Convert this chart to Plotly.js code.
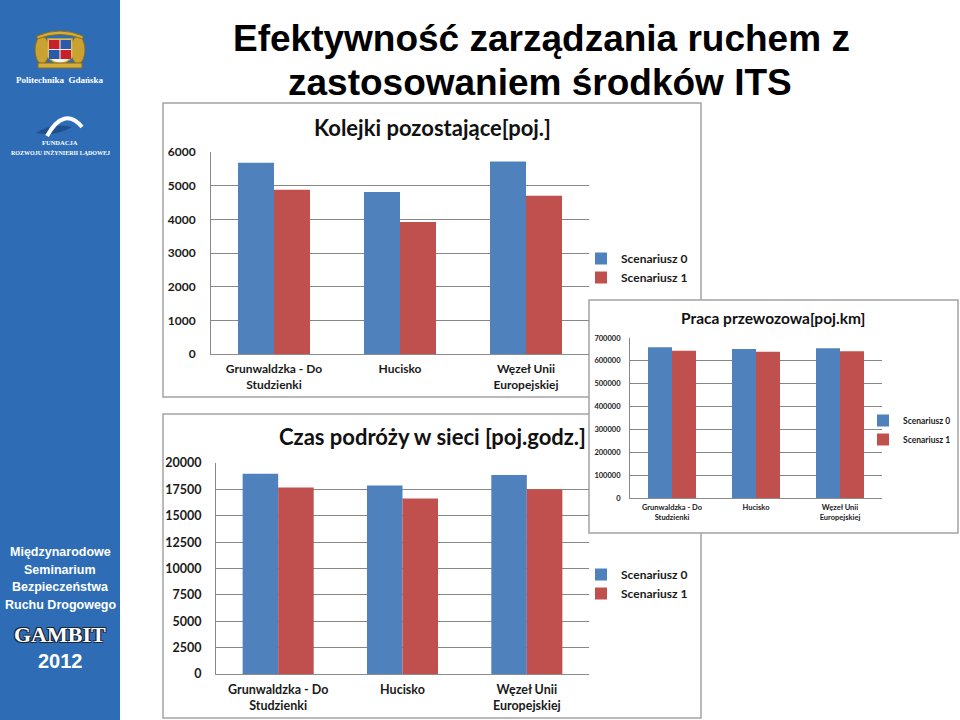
<!DOCTYPE html>
<html>
<head>
<meta charset="utf-8">
<script src="https://cdn.plot.ly/plotly-3.0.1.min.js"></script>
<style>
  html, body { margin: 0; padding: 0; background: #fff; }
  #slide { width: 960px; height: 720px; }
</style>
</head>
<body>
<div id="slide"></div>
<script>
// --- data ---
const categories = ['Grunwaldzka - Do<br>Studzienki', 'Hucisko', 'Węzeł Unii<br>Europejskiej'];
const seriesNames = ['Scenariusz 0', 'Scenariusz 1'];

// Kolejki pozostające [poj.]
const queueS0 = [5680, 4810, 5720];
const queueS1 = [4880, 3920, 4700];

// Praca przewozowa [poj.km]
const workS0 = [659000, 652000, 655000];
const workS1 = [644000, 640000, 642000];

// Czas podróży w sieci [poj.godz.]
const timeS0 = [18980, 17870, 18860];
const timeS1 = [17680, 16630, 17510];

const BLUE = '#4f81bd';
const RED = '#c0504d';
const SIDEBAR = '#2e6db6';
const GOLD = '#d4ad3a';
const XL_FONT = 'Lato, "Open Sans", sans-serif';

const W = 960, H = 720;
const px = x => x / W;
const py = y => 1 - y / H;

// path in pixel coords -> paper coords
function paperPath(cmds) {
    return cmds.map(c => {
        if (typeof c === 'string') return c;
        return px(c[0]).toFixed(5) + ',' + py(c[1]).toFixed(5);
    }).join(' ');
}

function barPair(s0, s1, xa, ya, leg) {
    return [s0, s1].map((vals, i) => ({
        type: 'bar',
        x: categories,
        y: vals,
        xaxis: xa,
        yaxis: ya,
        name: seriesNames[i],
        legend: leg,
        marker: { color: i === 0 ? BLUE : RED, line: { width: 0 } },
        hoverinfo: 'skip'
    }));
}

const traces = [
    ...barPair(queueS0, queueS1, 'x', 'y', 'legend'),
    ...barPair(workS0, workS1, 'x2', 'y2', 'legend2'),
    ...barPair(timeS0, timeS1, 'x3', 'y3', 'legend3')
];

function catAxis(domain, anchor, size, standoff) {
    return {
        domain, anchor,
        showgrid: false, zeroline: false,
        showline: true, linecolor: '#8c8c8c', linewidth: 1,
        ticks: '', fixedrange: true,
        tickfont: { family: XL_FONT, size, color: '#1a1a1a', weight: 'bold' },
        ticklabelstandoff: standoff
    };
}

function valAxis(domain, anchor, range, dtick, size, standoff) {
    return {
        domain, anchor, range, dtick,
        showgrid: true, gridcolor: '#878787', gridwidth: 1,
        zeroline: false,
        showline: true, linecolor: '#878787', linewidth: 1,
        ticks: '', fixedrange: true,
        tickformat: 'd',
        tickfont: { family: XL_FONT, size, color: '#1a1a1a', weight: 'bold' },
        ticklabelstandoff: standoff
    };
}

function legendAt(x, y, size, gap) {
    return {
        x: px(x), y: py(y), xanchor: 'left', yanchor: 'middle',
        orientation: 'v', traceorder: 'normal',
        bgcolor: 'rgba(0,0,0,0)', borderwidth: 0,
        font: { family: XL_FONT, size, color: '#1a1a1a', weight: 'bold' },
        tracegroupgap: gap
    };
}

function chartBox(x0, y0, x1, y1) {
    return {
        type: 'rect', xref: 'paper', yref: 'paper', layer: 'below',
        x0: px(x0), y0: py(y0), x1: px(x1), y1: py(y1),
        fillcolor: '#ffffff', line: { color: '#a3a3a3', width: 1.5 }
    };
}

function paperShape(kind, x0, y0, x1, y1, fill, lineColor, lw) {
    return {
        type: kind, xref: 'paper', yref: 'paper', layer: 'below',
        x0: px(x0), y0: py(y0), x1: px(x1), y1: py(y1),
        fillcolor: fill, line: { color: lineColor || fill, width: lw || 0 }
    };
}

function pathShape(cmds, fill, lineColor, lw) {
    return {
        type: 'path', xref: 'paper', yref: 'paper', layer: 'below',
        path: paperPath(cmds),
        fillcolor: fill, line: { color: lineColor, width: lw }
    };
}

const shapes = [
    // sidebar
    paperShape('rect', 0, 0, 120, 720, SIDEBAR),
    // crest (rough)
    paperShape('circle', 35, 36, 49, 64, '#c9a233', '#8a6d1a', 1),
    paperShape('circle', 71, 36, 85, 64, '#c9a233', '#8a6d1a', 1),
    pathShape(['M', [37, 36], 'Q', [60, 26], [83, 36], 'L', [83, 39], 'Q', [60, 30], [37, 39], 'Z'], GOLD, '#8a6d1a', 1),
    pathShape(['M', [48, 39], 'L', [72, 39], 'L', [72, 57], 'Q', [60, 70], [48, 57], 'Z'], '#f3f3f3', GOLD, 1.5),
    paperShape('rect', 49, 40, 59.5, 49, '#c8202a'),
    paperShape('rect', 60.5, 40, 71, 49, '#2a5aa8'),
    paperShape('rect', 49, 50, 59.5, 59, '#2a5aa8'),
    paperShape('rect', 60.5, 50, 71, 59, '#c8202a'),
    paperShape('rect', 38, 63, 82, 68, GOLD, '#8a6d1a', 1),
    // bridge logo
    pathShape(['M', [36, 133], 'Q', [52, 122], [72, 127], 'Q', [55, 137], [36, 133], 'Z'], '#1f4f8c', '#1f4f8c', 0),
    pathShape(['M', [47, 136], 'Q', [64, 106], [82, 127]], 'rgba(0,0,0,0)', '#ffffff', 4),
    // chart areas (middle-right one last, it sits on top)
    chartBox(163, 103, 701, 397),
    chartBox(163, 414, 701, 718),
    chartBox(589, 300, 958, 533)
];

function note(text, x, y, size, opts) {
    return Object.assign({
        text, x: px(x), y: py(y), xref: 'paper', yref: 'paper',
        xanchor: 'center', yanchor: 'middle', showarrow: false,
        font: { family: XL_FONT, size, color: '#111111', weight: 'bold' }
    }, opts || {});
}

const whiteSerif = (size) => ({ family: '"Liberation Serif", "DejaVu Serif", serif', size, color: '#ffffff', weight: 'bold' });
const titleFont = { family: '"Liberation Sans", Arial, sans-serif', size: 37, color: '#000000', weight: 'bold' };
const sideFont = { family: '"Liberation Sans", Arial, sans-serif', size: 12.5, color: '#ffffff', weight: 'bold' };

const annotations = [
    // slide title
    note('Efektywność zarządzania ruchem z', 541, 38, 37, { font: titleFont }),
    note('zastosowaniem środków ITS', 540, 82, 37, { font: titleFont }),
    // chart titles
    note('Kolejki pozostające[poj.]', 432, 127, 22),
    note('Praca przewozowa[poj.km]', 773, 318, 15.5),
    note('Czas podróży w sieci [poj.godz.]', 432, 437, 22),
    // sidebar texts
    note('Politechnika  Gdańska', 60, 80, 9, { font: whiteSerif(9) }),
    note('FUNDACJA', 60, 143, 6.5, { font: whiteSerif(6.5) }),
    note('ROZWOJU INŻYNIERII LĄDOWEJ', 60, 153, 6, { font: whiteSerif(6) }),
    note('Międzynarodowe', 60, 552, 12.5, { font: sideFont }),
    note('Seminarium', 60, 569.5, 12.5, { font: sideFont }),
    note('Bezpieczeństwa', 60, 587, 12.5, { font: sideFont }),
    note('Ruchu Drogowego', 60, 604.5, 12.5, { font: sideFont }),
    note('GAMBIT', 60, 634, 21, {
        font: {
            family: '"Liberation Serif", "DejaVu Serif", serif', size: 22, color: '#ffffff', weight: 'bold',
            shadow: '-1px -1px 0 #1b2433, 1px -1px 0 #1b2433, -1px 1px 0 #1b2433, 1px 1px 0 #1b2433'
        }
    }),
    note('2012', 60, 661, 20, { font: { family: '"Liberation Sans", Arial, sans-serif', size: 20, color: '#ffffff', weight: 'bold' } })
];

const layout = {
    width: W, height: H,
    margin: { l: 0, r: 0, t: 0, b: 0 },
    paper_bgcolor: '#ffffff',
    plot_bgcolor: 'rgba(0,0,0,0)',
    barmode: 'group',
    bargap: 0.4286,
    bargroupgap: 0,
    font: { family: XL_FONT },

    xaxis: catAxis([px(211), px(589)], 'y', 12, 4),
    yaxis: valAxis([py(354), py(152)], 'x', [0, 6000], 1000, 12, 12),

    xaxis2: catAxis([px(630), px(882)], 'y2', 7.5, 2),
    yaxis2: valAxis([py(498), py(338)], 'x2', [0, 700000], 100000, 7.5, 7),

    xaxis3: catAxis([px(216), px(589)], 'y3', 12.5, 4),
    yaxis3: valAxis([py(674), py(463)], 'x3', [0, 20000], 2500, 12.5, 11),

    legend: legendAt(581, 268, 12, 0),
    legend2: legendAt(863, 430, 8.5, 0),
    legend3: legendAt(581, 584, 12, 0),

    shapes,
    annotations
};

Plotly.newPlot('slide', traces, layout, { displayModeBar: false, staticPlot: true });
</script>
</body>
</html>
